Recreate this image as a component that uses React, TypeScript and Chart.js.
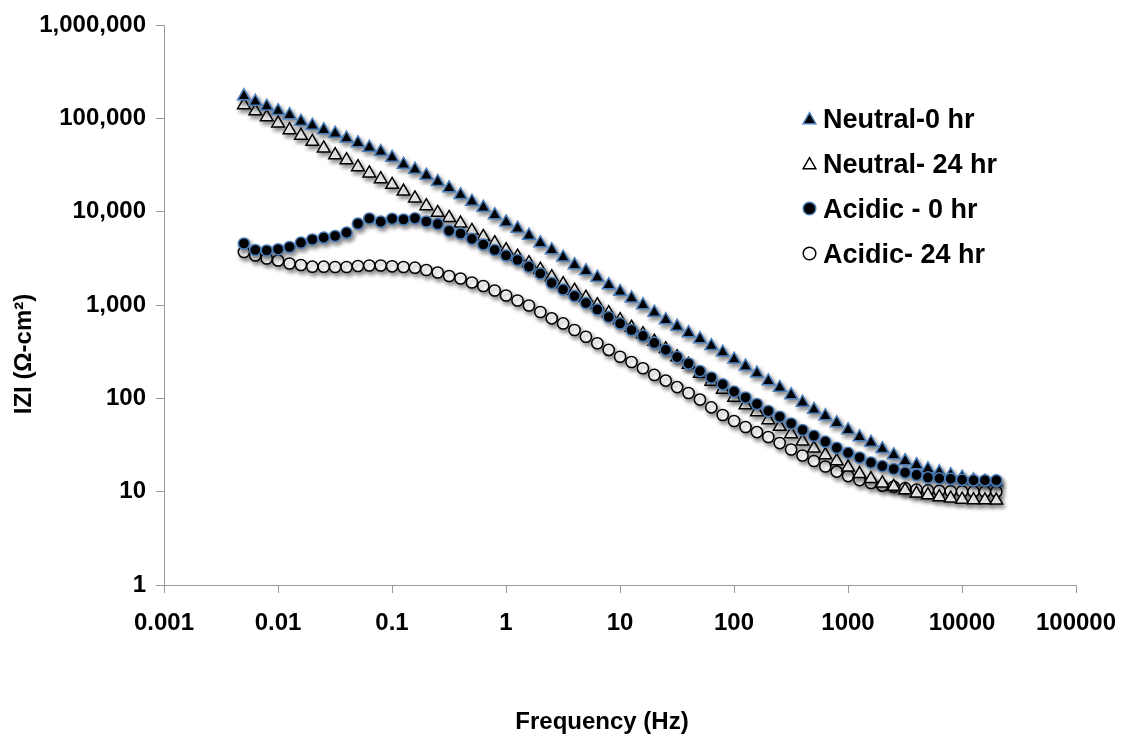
import React, { useEffect, useRef } from 'react';
import { Chart, registerables } from 'chart.js';

Chart.register(...registerables);

const FONT = '"Liberation Sans", Arial, Helvetica, sans-serif';

const FREQ_HZ = [
  0.005024, 0.006325, 0.007962, 0.01002, 0.01262, 0.01589, 0.02, 0.02518, 0.0317, 0.03991,
  0.05024, 0.06325, 0.07962, 0.1002, 0.1262, 0.1589, 0.2, 0.2518, 0.317, 0.3991,
  0.5024, 0.6325, 0.7962, 1.002, 1.262, 1.589, 2.0, 2.518, 3.17, 3.991,
  5.024, 6.325, 7.962, 10.02, 12.62, 15.89, 20.0, 25.18, 31.7, 39.91,
  50.24, 63.25, 79.62, 100.2, 126.2, 158.9, 200, 251.8, 317, 399.1,
  502.4, 632.5, 796.2, 1002, 1262, 1589, 2000, 2518, 3170, 3991,
  5024, 6325, 7962, 10020, 12620, 15890, 20000,
];

const NEUTRAL_0 = [
  173000, 151000, 134000, 120000, 108600, 92500, 83800, 75000, 68800, 61100,
  54400, 48700, 43900, 38000, 32000, 28300, 24400, 20900, 17900, 15100,
  12850, 11080, 9210, 7700, 6600, 5555, 4615, 3884, 3230, 2683,
  2313, 1970, 1638, 1388, 1180, 1000, 831, 691, 586, 501,
  432, 364, 310, 261, 220, 185, 153, 130, 108.6, 90.2,
  75.5, 64.7, 54.4, 45.8, 38.5, 33.6, 28.7, 24.7, 21.3, 19.3,
  17.5, 16.2, 15.1, 14.2, 13.3, 12.85, 12.5,
];

const NEUTRAL_24 = [
  138900, 119200, 103300, 88500, 75000, 65500, 56200, 47750, 40460, 35770,
  30100, 25770, 22390, 19450, 16500, 13910, 11500, 9750, 8600, 7500,
  6250, 5395, 4615, 3884, 3310, 2818, 2400, 1995, 1679, 1430,
  1203, 1000, 821, 691, 574, 489, 406, 338, 277, 230,
  184.5, 151.5, 124.3, 102, 84.8, 71.4, 58.6, 49.7, 41.5, 34.5,
  29.1, 24.7, 21.3, 18.2, 15.5, 13.7, 12.3, 11.3, 10.4, 9.6,
  9.2, 8.77, 8.49, 8.24, 8.14, 8.1, 8.07,
];

const ACIDIC_0 = [
  4560, 3884, 3838, 3953, 4181, 4650, 5035, 5263, 5486, 5953,
  7430, 8450, 7807, 8387, 8245, 8490, 7846, 7380, 6237, 5833,
  5119, 4448, 3884, 3391, 3035, 2572, 2175, 1721, 1466, 1248,
  1050, 895, 744, 634, 540, 466, 392, 330, 277, 236,
  196, 167, 141, 118, 102, 86.9, 73.1, 63.5, 53.7, 45.8,
  39.7, 34.3, 29.5, 26.0, 23.2, 20.5, 18.8, 17.5, 16.0, 15.1,
  14.2, 13.9, 13.7, 13.4, 13.2, 13.2, 13.2,
];

const ACIDIC_24 = [
  3698, 3391, 3148, 2998, 2783, 2683, 2572, 2572, 2553, 2553,
  2617, 2650, 2650, 2598, 2553, 2509, 2371, 2229, 2045, 1923,
  1742, 1598, 1430, 1264, 1117, 988, 841, 720, 634, 540,
  457, 389, 330, 279, 245, 210, 178, 155, 132, 114,
  97, 80, 66.3, 57.2, 49.3, 43.5, 38.5, 33.2, 28.3, 24.4,
  21.3, 18.6, 16.4, 14.7, 13.3, 12.4, 11.6, 11.3, 10.9, 10.5,
  10.3, 10.2, 10.1, 10.05, 10.0, 10.0, 10.0,
];

const SERIES_NAMES = ['Neutral-0 hr', 'Neutral- 24 hr', 'Acidic - 0 hr', 'Acidic- 24 hr'];

const X_TICKS = [0.001, 0.01, 0.1, 1, 10, 100, 1000, 10000, 100000];
const X_TICK_LABELS = ['0.001', '0.01', '0.1', '1', '10', '100', '1000', '10000', '100000'];
const Y_TICKS = [1, 10, 100, 1000, 10000, 100000, 1000000];
const Y_TICK_LABELS = ['1', '10', '100', '1,000', '10,000', '100,000', '1,000,000'];

const X_TITLE = 'Frequency (Hz)';
const Y_TITLE = 'IZI (\u03A9-cm\u00B2)';

const FILL_DARK = '#000000';
const EDGE_BLUE = '#4a7ebb';
const AXIS_GRAY = '#9a9a9a';

const toPoints = (ys: number[]) => FREQ_HZ.map((f, i) => ({ x: f, y: ys[i] }));

type Marker = { style: 'triangle' | 'circle'; fill: string; edge: string; r: number };
const MARKERS: Marker[] = [
  { style: 'triangle', fill: FILL_DARK, edge: EDGE_BLUE, r: 7.3 },
  { style: 'triangle', fill: '#ffffff', edge: '#000000', r: 7.3 },
  { style: 'circle', fill: FILL_DARK, edge: EDGE_BLUE, r: 5.6 },
  { style: 'circle', fill: '#ffffff', edge: '#000000', r: 5.6 },
];

function drawMarker(ctx: CanvasRenderingContext2D, m: Marker, x: number, y: number, r: number) {
  ctx.beginPath();
  if (m.style === 'triangle') {
    ctx.moveTo(x, y - r);
    ctx.lineTo(x + 0.866 * r, y + 0.5 * r);
    ctx.lineTo(x - 0.866 * r, y + 0.5 * r);
    ctx.closePath();
  } else {
    ctx.arc(x, y, r, 0, Math.PI * 2);
  }
  ctx.fillStyle = m.fill;
  ctx.fill();
  ctx.lineWidth = 1.5;
  ctx.strokeStyle = m.edge;
  ctx.stroke();
}

const shadowPlugin = {
  id: 'markerShadow',
  beforeDatasetsDraw(chart: any) {
    const ctx = chart.ctx;
    ctx.save();
    ctx.shadowColor = 'rgba(0,0,0,0.45)';
    ctx.shadowBlur = 4;
    ctx.shadowOffsetX = 2;
    ctx.shadowOffsetY = 3;
  },
  afterDatasetsDraw(chart: any) {
    chart.ctx.restore();
  },
};

const textPlugin = {
  id: 'titlesAndLegend',
  afterDraw(chart: any) {
    const ctx: CanvasRenderingContext2D = chart.ctx;
    ctx.save();
    ctx.fillStyle = '#000';
    ctx.font = `bold 24px ${FONT}`;
    ctx.textAlign = 'center';
    ctx.textBaseline = 'alphabetic';
    ctx.fillText(X_TITLE, 602, 729);
    ctx.save();
    ctx.translate(31, 354);
    ctx.rotate(-Math.PI / 2);
    ctx.fillText(Y_TITLE, 0, 0);
    ctx.restore();

    // legend
    ctx.font = `bold 27px ${FONT}`;
    ctx.textAlign = 'left';
    SERIES_NAMES.forEach((name, i) => {
      const base = 128 + i * 45;
      const m = MARKERS[i];
      const my = m.style === 'triangle' ? base - 8 : base - 9.5;
      drawMarker(ctx, m, 809.5, my, m.style === 'triangle' ? 7.3 : 6.3);
      ctx.fillStyle = '#000';
      ctx.fillText(name, 823, base);
    });
    ctx.restore();
  },
};

export default function App() {
  const ref = useRef<HTMLCanvasElement>(null);

  useEffect(() => {
    if (!ref.current) return;
    Chart.defaults.font.family = FONT;
    const seriesData = [NEUTRAL_0, NEUTRAL_24, ACIDIC_0, ACIDIC_24];
    const orders = [1, 2, 0, 3];
    const datasets = seriesData.map((ys, i) => ({
      label: SERIES_NAMES[i],
      data: toPoints(ys),
      showLine: false,
      pointStyle: MARKERS[i].style,
      pointRadius: MARKERS[i].r,
      pointHoverRadius: MARKERS[i].r,
      pointBackgroundColor: MARKERS[i].fill,
      pointBorderColor: MARKERS[i].edge,
      pointBorderWidth: 1.5,
      order: orders[i],
    }));

    const chart = new Chart(ref.current, {
      type: 'scatter',
      data: { datasets },
      plugins: [shadowPlugin, textPlugin],
      options: {
        responsive: false,
        animation: false,
        devicePixelRatio: 1,
        layout: { padding: { left: 0, top: 25, right: 47, bottom: 0 } },
        plugins: {
          legend: { display: false },
          tooltip: { enabled: false },
        },
        scales: {
          x: {
            type: 'logarithmic',
            min: 0.001,
            max: 100000,
            afterBuildTicks: (scale: any) => {
              scale.ticks = X_TICKS.map((v) => ({ value: v }));
            },
            afterFit: (scale: any) => {
              scale.height = 153;
              scale.paddingLeft = 0;
              scale.paddingRight = 0;
            },
            ticks: {
              autoSkip: false,
              maxRotation: 0,
              minRotation: 0,
              padding: 16,
              color: '#000',
              font: { size: 24, weight: 'bold', family: FONT },
              callback: (v: any) => {
                const idx = X_TICKS.indexOf(Number(v));
                return idx >= 0 ? X_TICK_LABELS[idx] : '';
              },
            },
            grid: { display: true, drawOnChartArea: false, drawTicks: true, tickLength: 8, color: AXIS_GRAY, lineWidth: 1 },
            border: { display: true, color: AXIS_GRAY, width: 1 },
          },
          y: {
            type: 'logarithmic',
            min: 1,
            max: 1000000,
            afterBuildTicks: (scale: any) => {
              scale.ticks = Y_TICKS.map((v) => ({ value: v }));
            },
            afterFit: (scale: any) => {
              scale.width = 164;
              scale.paddingTop = 0;
              scale.paddingBottom = 0;
            },
            ticks: {
              autoSkip: false,
              padding: 10,
              color: '#000',
              font: { size: 24, weight: 'bold', family: FONT },
              callback: (v: any) => {
                const idx = Y_TICKS.indexOf(Number(v));
                return idx >= 0 ? Y_TICK_LABELS[idx] : '';
              },
            },
            grid: { display: true, drawOnChartArea: false, drawTicks: true, tickLength: 8, color: AXIS_GRAY, lineWidth: 1 },
            border: { display: true, color: AXIS_GRAY, width: 1 },
          },
        },
      } as any,
    });
    return () => chart.destroy();
  }, []);

  return (
    <div style={{ position: 'fixed', left: 0, top: 0, width: 1123, height: 738, background: '#ffffff' }}>
      <canvas ref={ref} width={1123} height={738} style={{ display: 'block', width: 1123, height: 738 }} />
    </div>
  );
}
